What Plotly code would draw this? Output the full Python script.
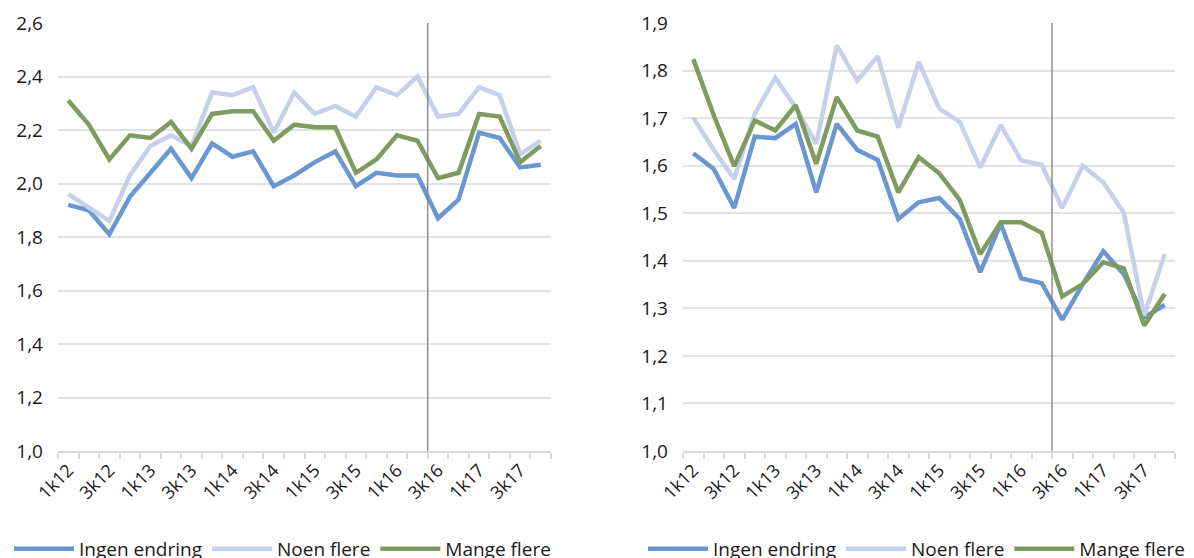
import plotly.graph_objects as go

quarters = ["1k12", "2k12", "3k12", "4k12", "1k13", "2k13", "3k13", "4k13",
            "1k14", "2k14", "3k14", "4k14", "1k15", "2k15", "3k15", "4k15",
            "1k16", "2k16", "3k16", "4k16", "1k17", "2k17", "3k17", "4k17"]
divider_after = "2k16"

left_ingen = [1.92, 1.90, 1.81, 1.95, 2.04, 2.13, 2.02, 2.15, 2.10, 2.12, 1.99, 2.03,
              2.08, 2.12, 1.99, 2.04, 2.03, 2.03, 1.87, 1.94, 2.19, 2.17, 2.06, 2.07]
left_noen = [1.96, 1.91, 1.86, 2.03, 2.14, 2.18, 2.14, 2.34, 2.33, 2.36, 2.19, 2.34,
             2.26, 2.29, 2.25, 2.36, 2.33, 2.40, 2.25, 2.26, 2.36, 2.33, 2.11, 2.16]
left_mange = [2.31, 2.22, 2.09, 2.18, 2.17, 2.23, 2.13, 2.26, 2.27, 2.27, 2.16, 2.22,
              2.21, 2.21, 2.04, 2.09, 2.18, 2.16, 2.02, 2.04, 2.26, 2.25, 2.08, 2.14]

right_ingen = [1.626, 1.593, 1.511, 1.661, 1.658, 1.688, 1.544, 1.688, 1.633, 1.612, 1.488, 1.523,
               1.532, 1.488, 1.376, 1.478, 1.363, 1.353, 1.276, 1.351, 1.420, 1.372, 1.281, 1.307]
right_noen = [1.701, 1.633, 1.572, 1.709, 1.785, 1.722, 1.646, 1.853, 1.779, 1.830, 1.680, 1.818,
              1.720, 1.692, 1.596, 1.685, 1.611, 1.602, 1.511, 1.600, 1.565, 1.501, 1.285, 1.414]
right_mange = [1.824, 1.706, 1.599, 1.695, 1.674, 1.727, 1.604, 1.744, 1.674, 1.661, 1.544, 1.618,
               1.584, 1.528, 1.414, 1.481, 1.481, 1.459, 1.325, 1.351, 1.397, 1.384, 1.264, 1.330]

series_names = ["Ingen endring", "Noen flere", "Mange flere"]
colors = ["#6a97cf", "#c5d0eb", "#7e9c5f"]

FONT = "Open Sans"
W, H = 1178, 550   # page body has an 8px margin inside the 1194x558 window
xidx = list(range(len(quarters)))

fig = go.Figure()
groups = [
    ([left_ingen, left_noen, left_mange], "x", "y", "legend"),
    ([right_ingen, right_noen, right_mange], "x2", "y2", "legend2"),
]
for vals, xa, ya, lg in groups:
    for name, v, c in zip(series_names, vals, colors):
        fig.add_trace(go.Scatter(x=xidx, y=v, mode="lines", name=name,
                                 line=dict(color=c, width=4.5),
                                 xaxis=xa, yaxis=ya, legend=lg, showlegend=True))

ydom = [1 - 443 / H, 1 - 15 / H]
xcommon = dict(range=[-0.5, len(quarters) - 0.5], automargin=False,
               tickvals=xidx[::2], ticktext=quarters[::2], tickangle=-45,
               ticks="", showgrid=False, zeroline=False,
               showline=True, linecolor="#d9d9d9", linewidth=1.5,
               tickfont=dict(family=FONT, size=18, color="#1a1a1a"),
               minor=dict(tickvals=[i - 0.5 for i in range(len(quarters) + 1)],
                          ticks="outside", ticklen=6, tickcolor="#d9d9d9", tickwidth=1.5,
                          showgrid=False))
ycommon = dict(showgrid=True, gridcolor="#e2e2e2", gridwidth=1.5, zeroline=False,
               automargin=False,
               ticks="", tickformat=".1f", ticklabelstandoff=14,
               tickfont=dict(family=FONT, size=19, color="#1a1a1a"))

legfont = dict(family=FONT, size=19, color="#1a1a1a")
fig.update_layout(
    width=W, height=H,
    margin=dict(l=0, r=0, t=0, b=0, autoexpand=False),
    paper_bgcolor="white", plot_bgcolor="white",
    separators=", ",
    xaxis=dict(domain=[50 / W, 543 / W], anchor="y", **xcommon),
    yaxis=dict(domain=ydom, anchor="x", range=[1.0, 2.6], dtick=0.2, **ycommon),
    xaxis2=dict(domain=[675 / W, 1167 / W], anchor="y2", **xcommon),
    yaxis2=dict(domain=ydom, anchor="x2", range=[1.0, 1.9], dtick=0.1, **ycommon),
    legend=dict(orientation="h", xref="container", yref="container",
                x=1 / W, y=1 - 541 / H, xanchor="left", yanchor="middle",
                font=legfont, itemwidth=60, bgcolor="rgba(0,0,0,0)"),
    legend2=dict(orientation="h", xref="container", yref="container",
                 x=635 / W, y=1 - 541 / H, xanchor="left", yanchor="middle",
                 font=legfont, itemwidth=60, bgcolor="rgba(0,0,0,0)"),
)

div = quarters.index(divider_after) + 0.5
for xr, yr in [("x", "y domain"), ("x2", "y2 domain")]:
    fig.add_shape(type="line", xref=xr, yref=yr, x0=div, x1=div, y0=0, y1=1,
                  line=dict(color="#7f7f7f", width=1.3), layer="above")

fig.write_html("out.html")
